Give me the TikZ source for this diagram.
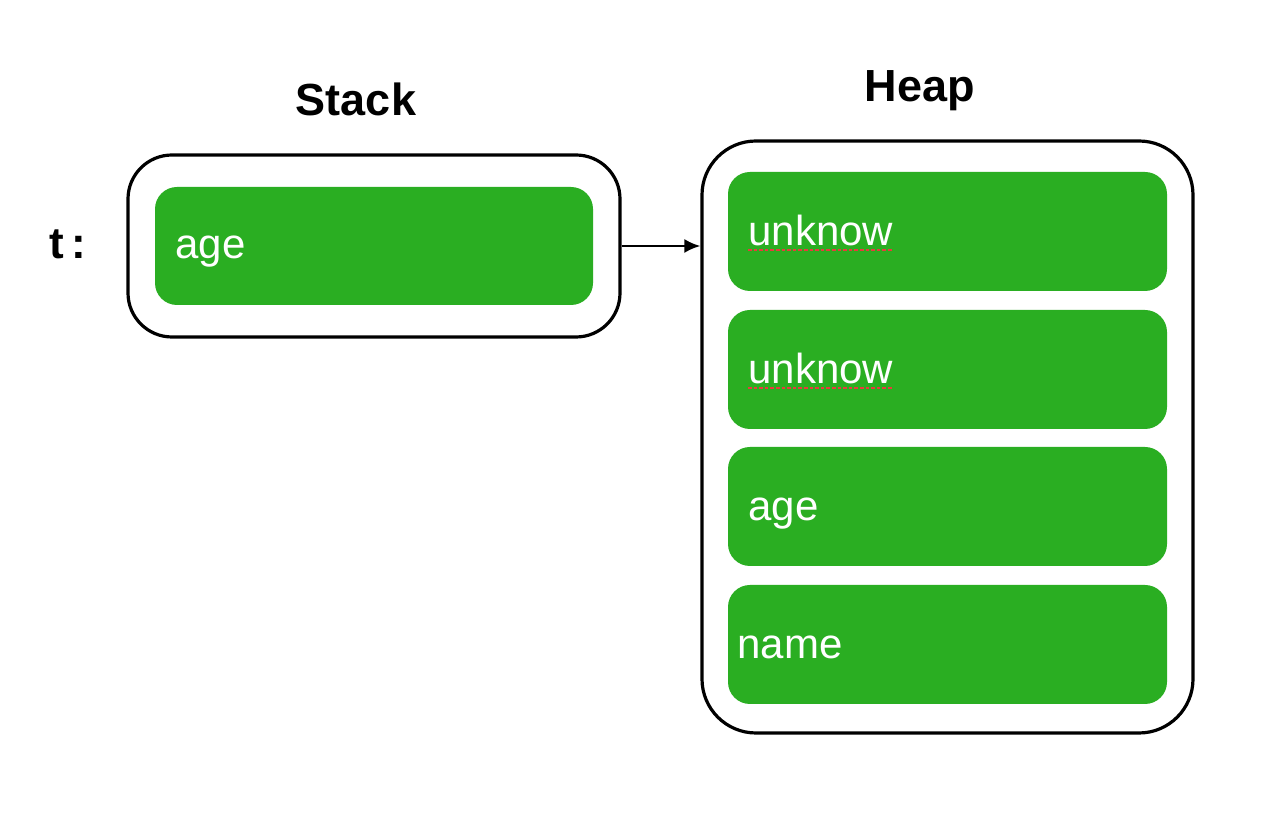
\documentclass[tikz,border=0pt]{standalone}
\usepackage{fontspec}
\setmainfont{Liberation Sans}
\usetikzlibrary{arrows.meta}
\definecolor{cellgreen}{RGB}{42,174,34}
\definecolor{squigred}{RGB}{230,60,60}
\tikzset{
  outerbox/.style={draw=black, line width=1.6pt, rounded corners=#1, fill=white},
  cell/.style={fill=cellgreen, draw=none, rounded corners=11pt, minimum width=219.5pt, minimum height=59.5pt},
  celltext/.style={text=white, font=\fontsize{21}{24}\selectfont, inner sep=0pt, anchor=base west},
  title/.style={font=\bfseries\fontsize{22.5}{26}\selectfont, inner sep=0pt, anchor=base},
  squig/.style={draw=squigred, line width=1.2pt, dash pattern=on 1.8pt off 1pt},
  link/.style={draw=black, line width=1.2pt, -{Latex[length=8pt,width=7pt]}}
}
\begin{document}
\begin{tikzpicture}[x=0.5pt,y=-0.5pt]
\useasboundingbox (0,0) rectangle (1280,838);
\fill[white] (0,0) rectangle (1280,838);

% titles
\node[title] (stacktitle) at (356,116) {Stack};
\node[title] (heaptitle) at (920,102) {Heap};
\node[font=\bfseries\fontsize{22}{26}\selectfont, inner sep=0pt, anchor=base west] (tlabel) at (49,259) {t\,:};

% stack
\node[outerbox=22pt, minimum width=246pt, minimum height=91pt] (stackbox) at (374,246) {};
\node[cell, minimum width=219pt, minimum height=59pt] (stackcell) at (374,246) {};
\node[celltext] (stackage) at (175,259) {age};

% heap
\node[outerbox=27pt, minimum width=245.5pt, minimum height=296pt] (heapbox) at (947.5,437) {};
\node[cell] (h1) at (947.5,231.5) {};
\node[cell] (h2) at (947.5,369.5) {};
\node[cell] (h3) at (947.5,506.5) {};
\node[cell] (h4) at (947.5,644.5) {};
\node[celltext] (h1t) at (748,246) {unknow};
\node[celltext] (h2t) at (748,384) {unknow};
\node[celltext] (h3t) at (748,521) {age};
\node[celltext] (h4t) at (737,659) {name};
\draw[squig] ([yshift=-2pt]h1t.base west) -- ([yshift=-2pt]h1t.base east);
\draw[squig] ([yshift=-2pt]h2t.base west) -- ([yshift=-2pt]h2t.base east);

% pointer
\draw[link] (stackbox.east) -- (stackbox.east -| heapbox.west);
\end{tikzpicture}
\end{document}
